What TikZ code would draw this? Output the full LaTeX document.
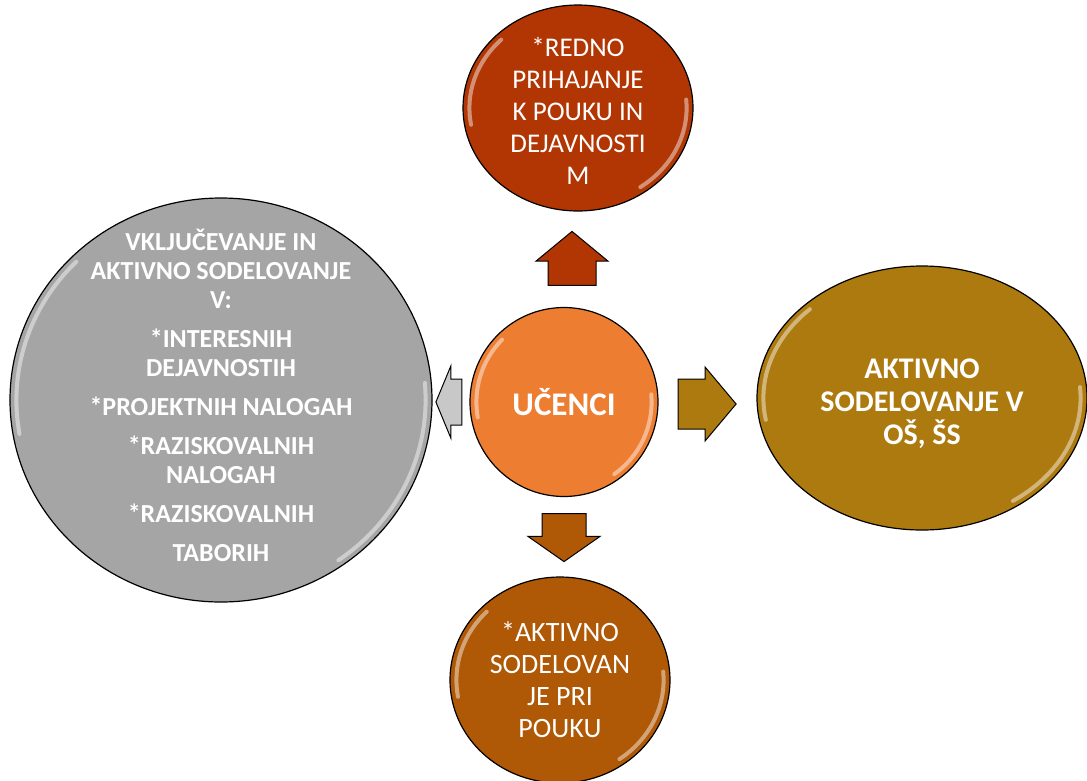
\documentclass[tikz,border=0pt]{standalone}
\usepackage{fontspec}
\setmainfont{Carlito}
\usetikzlibrary{positioning, calc, shapes.geometric, shapes.arrows}

\definecolor{rednoC}{HTML}{B23604}
\definecolor{ucenciC}{HTML}{ED7D31}
\definecolor{vkljucC}{HTML}{A5A5A5}
\definecolor{aktivnoC}{HTML}{AD7A10}
\definecolor{poukC}{HTML}{AF5806}
\definecolor{leftArrC}{HTML}{C8C8C8}

\tikzset{
    bubble/.style={ellipse, draw=black, line width=1.2pt, inner sep=0pt},
    bubbletext/.style={text=white, align=center},
    arrowbox/.style={single arrow, draw=black, line width=1pt, inner sep=0pt, anchor=tail},
    gloss/.style={white, opacity=0.45, line width=4pt, line cap=round}
}

\begin{document}
\begin{tikzpicture}[x=1pt, y=-1pt]
    \useasboundingbox (0,0) rectangle (1087,780);
    % bubbles
    \node (ucenci) [bubble, fill=ucenciC, minimum width=188pt, minimum height=189pt,
        label={[bubbletext, font=\bfseries\fontsize{33}{40}\selectfont]center:{UČENCI}}] at (564,402) {};
    \node (redno) [bubble, fill=rednoC, minimum width=230pt, minimum height=206pt,
        label={[bubbletext, yshift=-3pt, font=\fontsize{27}{32}\selectfont]center:{*REDNO\\PRIHAJANJE\\K POUKU IN\\DEJAVNOSTI\\M}}] at (578,108) {};
    \node (vkljuc) [bubble, fill=vkljucC, minimum width=422pt, minimum height=404pt,
        label={[bubbletext, yshift=5pt, font=\bfseries\fontsize{26}{29}\selectfont]center:{VKLJUČEVANJE IN\\AKTIVNO SODELOVANJE\\V:\\[10pt]*INTERESNIH\\DEJAVNOSTIH\\[10pt]*PROJEKTNIH NALOGAH\\[10pt]*RAZISKOVALNIH\\NALOGAH\\[10pt]*RAZISKOVALNIH\\[10pt]TABORIH}}] at (221,400) {};
    \node (aktivno) [bubble, fill=aktivnoC, minimum width=330pt, minimum height=264pt,
        label={[bubbletext, yshift=-6pt, font=\bfseries\fontsize{30}{33}\selectfont]center:{AKTIVNO\\SODELOVANJE V\\OŠ, ŠS}}] at (922,398) {};
    \node (pouk) [bubble, fill=poukC, minimum width=220pt, minimum height=206pt,
        label={[bubbletext, font=\fontsize{28}{32}\selectfont]center:{*AKTIVNO\\SODELOVAN\\JE PRI\\POUKU}}] at (560,680) {};

    % glossy rims
    \foreach \b in {ucenci, redno, vkljuc, aktivno, pouk} {
        \draw [gloss] let \p1 = ($(\b.east)-(\b.center)$), \p2 = ($(\b.north)-(\b.center)$) in
            ($(\b.center)+(135:{\x1-7pt} and {\y2-7pt})$) arc [start angle=135, end angle=190, x radius=\x1-7pt, y radius=\y2-7pt];
        \draw [gloss] let \p1 = ($(\b.east)-(\b.center)$), \p2 = ($(\b.north)-(\b.center)$) in
            ($(\b.center)+(-55:{\x1-7pt} and {\y2-7pt})$) arc [start angle=-55, end angle=5, x radius=\x1-7pt, y radius=\y2-7pt];
    }

    % arrows out of the centre
    \node (upArr) [arrowbox, fill=rednoC, minimum height=54pt, inner xsep=23.5pt,
        single arrow head extend=12pt, single arrow tip angle=101, shape border rotate=90]
        at ($(ucenci.north)+(8,-21)$) {};
    \node (downArr) [arrowbox, fill=poukC, minimum height=48pt, inner xsep=21.5pt,
        single arrow head extend=14pt, single arrow tip angle=110, shape border rotate=270]
        at ($(ucenci.south)+(0,16)$) {};
    \node (rightArr) [arrowbox, fill=aktivnoC, minimum height=58pt, inner ysep=24.5pt,
        single arrow head extend=12pt, single arrow tip angle=100, shape border rotate=0]
        at ($(ucenci.east)+(19,2)$) {};
    \node (leftArr) [arrowbox, fill=leftArrC, minimum height=26pt, inner ysep=22.5pt,
        single arrow head extend=13pt, single arrow tip angle=135, shape border rotate=180]
        at ($(ucenci.west)+(-7,0)$) {};
\end{tikzpicture}
\end{document}
